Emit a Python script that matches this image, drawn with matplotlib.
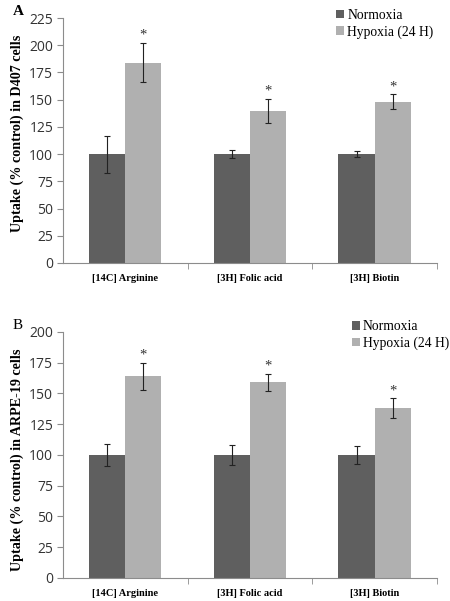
import matplotlib
matplotlib.use("Agg")
import matplotlib.pyplot as plt
import numpy as np

# data
categories = ["[14C] Arginine", "[3H] Folic acid", "[3H] Biotin"]

normoxia_a = [100, 100, 100]
normoxia_a_err = [17, 4, 3]
hypoxia_a = [184, 140, 148]
hypoxia_a_err = [18, 11, 7]

normoxia_b = [100, 100, 100]
normoxia_b_err = [9, 8, 7]
hypoxia_b = [164, 159, 138]
hypoxia_b_err = [11, 7, 8]

c_norm = "#5f5f5f"
c_hyp = "#b0b0b0"
axis_gray = "#8c8c8c"
serif = "Liberation Serif"
sans = "Open Sans"

fig = plt.figure(figsize=(4.5, 6.01), dpi=100)
ax_a = fig.add_axes([0.14, 0.5624, 0.831, 0.4076])
ax_b = fig.add_axes([0.14, 0.0383, 0.831, 0.4093])


def draw_panel(ax, norm, norm_err, hyp, hyp_err, ymax, ylabel, label_y,
               letter, letter_bold, leg_pos):
    x = np.arange(len(categories))
    w = 0.29
    ax.bar(x - w/2, norm, w, color=c_norm, label="Normoxia", zorder=2)
    ax.bar(x + w/2, hyp, w, color=c_hyp, label="Hypoxia (24 H)", zorder=2)
    ax.errorbar(x - w/2, norm, yerr=norm_err, fmt="none", ecolor="#222222",
                elinewidth=0.8, capsize=2, capthick=0.8, zorder=3)
    ax.errorbar(x + w/2, hyp, yerr=hyp_err, fmt="none", ecolor="#222222",
                elinewidth=0.8, capsize=2, capthick=0.8, zorder=3)
    for xi, h, e in zip(x, hyp, hyp_err):
        ax.text(xi + w/2, h + e + 1, "*", ha="center", va="bottom",
                fontsize=10.5, family=serif, color="#333333")

    ax.set_xlim(-0.5, 2.5)
    ax.set_ylim(0, ymax)
    ax.set_yticks(np.arange(0, ymax + 1, 25))
    ax.set_xticks(x)
    ax.set_xticklabels(categories, fontsize=7.5, family=serif, fontweight="bold")
    ax.set_xticks([0.5, 1.5, 2.5], minor=True)
    ax.tick_params(axis="x", which="major", length=0, pad=8)
    ax.tick_params(axis="x", which="minor", length=4, color=axis_gray)
    ax.tick_params(axis="y", length=4, color=axis_gray, labelsize=10,
                   labelcolor="#333333", pad=3)
    for lab in ax.get_yticklabels():
        lab.set_family(sans)
    for s in ["top", "right"]:
        ax.spines[s].set_visible(False)
    for s in ["left", "bottom"]:
        ax.spines[s].set_color(axis_gray)
        ax.spines[s].set_linewidth(0.8)

    ax.set_ylabel(ylabel, fontsize=10.2, family=serif, fontweight="bold")
    ax.yaxis.set_label_coords(-0.105, label_y)
    ax.text(-0.135, 1.0, letter, transform=ax.transAxes, fontsize=11, family=serif,
            fontweight="bold" if letter_bold else "normal", va="bottom", ha="left")
    ax.legend(loc="upper left", bbox_to_anchor=leg_pos, frameon=False,
              prop={"family": serif, "size": 9.8}, handlelength=0.6,
              handleheight=0.6, handletextpad=0.25, labelspacing=0.25,
              borderaxespad=0)


draw_panel(ax_a, normoxia_a, normoxia_a_err, hypoxia_a, hypoxia_a_err, 225,
           "Uptake (% control) in D407 cells", 0.53, "A", True, (0.715, 1.06))
draw_panel(ax_b, normoxia_b, normoxia_b_err, hypoxia_b, hypoxia_b_err, 200,
           "Uptake (% control) in ARPE-19 cells", 0.48, "B", False, (0.757, 1.07))

fig.savefig("out.png", dpi=100)
